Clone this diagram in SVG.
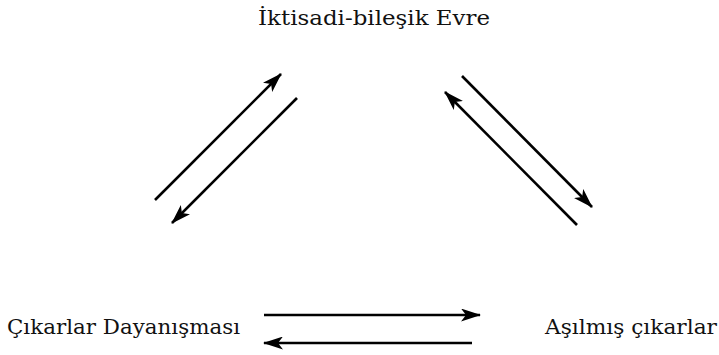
<svg xmlns="http://www.w3.org/2000/svg" width="719" height="355" viewBox="0 0 719 355">
<style>
.lbl{font-family:"DejaVu Serif","Liberation Serif",serif;font-size:20px;fill:#111}
.ln{stroke:#000;stroke-width:2.6;fill:none;marker-end:url(#ah)}
</style>
<defs>
<marker id="ah" viewBox="0 0 20 13" refX="19" refY="6.5" markerWidth="20" markerHeight="13" markerUnits="userSpaceOnUse" orient="auto">
<path d="M0,0 L20,6.5 L0,13 L5,6.5 Z" fill="#000"/>
</marker>
</defs>
<rect width="719" height="355" fill="#fff"/>
<g id="n-iktisadi"><text class="lbl" x="258" y="25" textLength="232" lengthAdjust="spacingAndGlyphs">İktisadi-bileşik Evre</text></g>
<g id="n-cikarlar"><text class="lbl" x="7" y="334" textLength="233" lengthAdjust="spacingAndGlyphs">Çıkarlar Dayanışması</text></g>
<g id="n-asilmis"><text class="lbl" x="545" y="334" textLength="172" lengthAdjust="spacingAndGlyphs">Aşılmış çıkarlar</text></g>
<g id="connectors">
<line class="ln" x1="155" y1="200" x2="281" y2="74"/>
<line class="ln" x1="297" y1="98" x2="172" y2="223"/>
<line class="ln" x1="462" y1="76" x2="592" y2="207"/>
<line class="ln" x1="577" y1="225" x2="445" y2="92"/>
<line class="ln" x1="264" y1="315" x2="480" y2="315"/>
<line class="ln" x1="472" y1="343" x2="264" y2="343"/>
</g>
</svg>
